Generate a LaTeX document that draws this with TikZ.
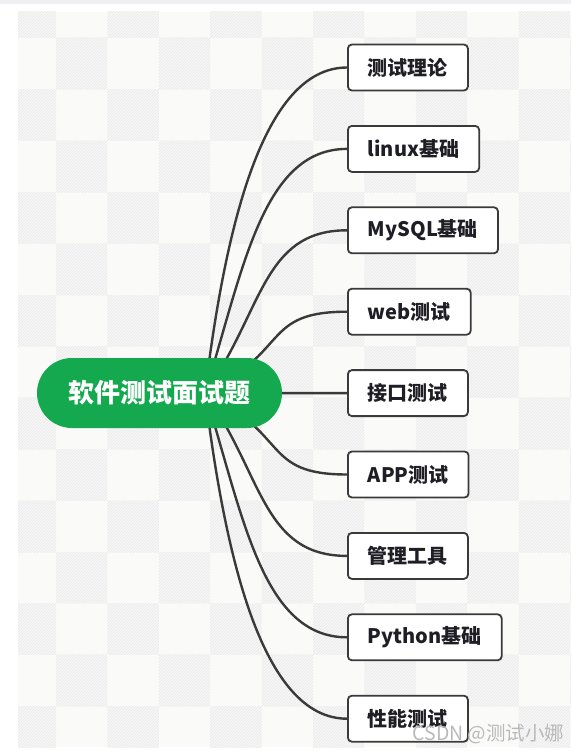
\documentclass[tikz,border=0pt]{standalone}
\usepackage{fontspec}
\setmainfont{Noto Sans CJK SC}
\usepackage{xcolor}
\usetikzlibrary{patterns}
\definecolor{green}{HTML}{14A94F}
\definecolor{ink}{HTML}{3A3A3A}
\definecolor{text}{HTML}{1E1E24}
\definecolor{paper}{HTML}{FAFAF9}
\definecolor{hatchbase}{HTML}{F7F7F7}
\definecolor{hatch}{HTML}{E9E9E9}
\definecolor{topbar}{HTML}{F0F0F2}

\begin{document}
\begin{tikzpicture}[
  x=1pt, y=-1pt,
  leaf/.style={draw=ink, fill=white, line width=1.8pt, rounded corners=4pt, anchor=west,
    minimum height=46pt, inner xsep=20pt, inner ysep=0pt, text=text,
    font=\fontsize{20}{24}\selectfont\bfseries},
  root/.style={fill=green, rounded corners=35pt, minimum width=245pt, minimum height=70pt,
    inner sep=0pt, text=white, font=\fontsize{26}{30}\selectfont\bfseries},
  branch/.style={draw=ink, line width=2.4pt, line cap=round}
]
\useasboundingbox (0,0) rectangle (571,752);
% background
\fill[white] (0,0) rectangle (571,752);
\fill[topbar] (0,0) rectangle (571,4);
\begin{scope}
  \clip (18,12) rectangle (571,747);
  \fill[paper] (18,12) rectangle (571,747);
  \foreach \c in {0,...,11}{
    \foreach \r in {0,...,15}{
      \pgfmathparse{int(mod(\c+\r,2))}
      \ifnum\pgfmathresult=0
        \fill[hatchbase] ({4.6+51.4*\c},{-13.4+51.4*\r}) rectangle +(51.4,51.4);
        \fill[pattern=north east lines, pattern color=hatch] ({4.6+51.4*\c},{-13.4+51.4*\r}) rectangle +(51.4,51.4);
      \fi
    }
  }
\end{scope}

% topics
\node[leaf] (theory) at (347,67.5) {测试理论};
\node[leaf] (linux) at (347,148.9) {linux基础};
\node[leaf] (mysql) at (347,230.3) {MySQL基础};
\node[leaf] (web) at (347,311.7) {web测试};
\node[leaf] (api) at (347,393.1) {接口测试};
\node[leaf] (app) at (347,474.5) {APP测试};
\node[leaf] (tools) at (347,555.9) {管理工具};
\node[leaf] (python) at (347,637.3) {Python基础};
\node[leaf] (perf) at (347,718.7) {性能测试};

% branches
\coordinate (hub) at (205,393);
\draw[branch] (hub) .. controls +(20,-163) and +(-85,0) .. (theory.west);
\draw[branch] (hub) .. controls +(38,-122) and +(-85,0) .. (linux.west);
\draw[branch] (hub) .. controls +(58,-81) and +(-85,0) .. (mysql.west);
\draw[branch] (hub) .. controls +(85,-41) and +(-85,0) .. (web.west);
\draw[branch] (hub) -- (api.west);
\draw[branch] (hub) .. controls +(85,41) and +(-85,0) .. (app.west);
\draw[branch] (hub) .. controls +(58,81) and +(-85,0) .. (tools.west);
\draw[branch] (hub) .. controls +(38,122) and +(-85,0) .. (python.west);
\draw[branch] (hub) .. controls +(20,163) and +(-85,0) .. (perf.west);

\node[root] (main) at (159.5,393) {软件测试面试题};

\node[anchor=base west, text=gray!55, font=\fontsize{19.5}{20}\selectfont] (mark) at (409,740) {CSDN @测试小娜};
\end{tikzpicture}
\end{document}
